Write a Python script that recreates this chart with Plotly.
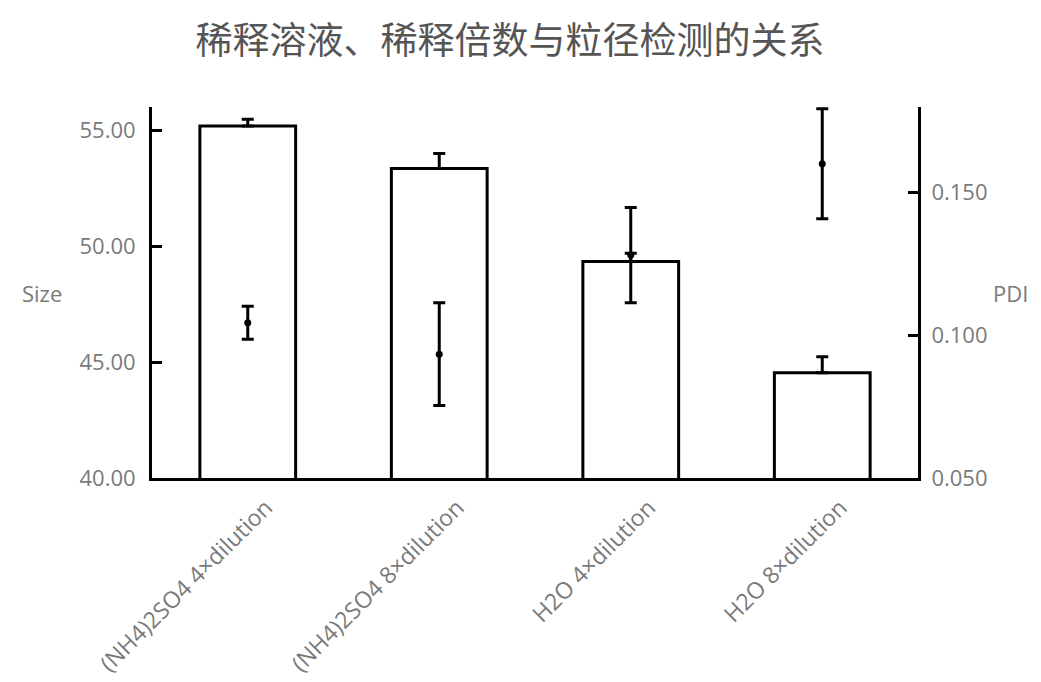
import plotly.graph_objects as go

categories = ["(NH4)2SO4 4×dilution", "(NH4)2SO4 8×dilution", "H2O 4×dilution", "H2O 8×dilution"]
size_values = [55.18, 53.35, 49.34, 44.54]
size_errors = [0.29, 0.65, 0.35, 0.69]
pdi_values = [0.1044, 0.0934, 0.1281, 0.1601]
pdi_errors = [0.0058, 0.0180, 0.0167, 0.0193]

title_text = "稀释溶液、稀释倍数与粒径检测的关系"
left_ticks = [40, 45, 50, 55]
right_ticks = [0.05, 0.10, 0.15]

grey = "#7a7a7a"
font_family = "Open Sans, Noto Sans CJK SC, sans-serif"

fig = go.Figure()
fig.add_trace(go.Bar(
    x=categories, y=size_values, name="Size",
    marker=dict(color="white", line=dict(color="black", width=3)),
    error_y=dict(type="data", array=size_errors, arrayminus=[0]*len(size_errors),
                 symmetric=False, color="black", thickness=3, width=6),
    yaxis="y", showlegend=False,
))
fig.add_trace(go.Scatter(
    x=categories, y=pdi_values, name="PDI", mode="markers",
    marker=dict(color="black", size=7),
    error_y=dict(type="data", array=pdi_errors, color="black", thickness=3, width=6),
    yaxis="y2", showlegend=False,
))

fig.update_layout(
    width=1041, height=682,
    margin=dict(l=152, r=123, t=107, b=204),
    paper_bgcolor="white", plot_bgcolor="white",
    bargap=0.5,
    font=dict(family=font_family, color=grey, size=22),
    title=dict(text=title_text, x=0.49, xanchor="center", y=0.94, yanchor="middle",
               font=dict(family="Noto Sans CJK SC, sans-serif", size=37, color="#555555")),
    xaxis=dict(showline=True, linecolor="black", linewidth=3, showgrid=False,
               ticks="", tickangle=-45, tickfont=dict(size=23, color=grey),
               ticklabelshift=18, ticklabelstandoff=4, automargin=False,
               zeroline=False),
    yaxis=dict(range=[40, 56], showline=True, linecolor="black", linewidth=3,
               showgrid=False, zeroline=False, ticks="inside", ticklen=10,
               tickwidth=3, tickcolor="black", tickvals=left_ticks, tickformat=".2f",
               tickfont=dict(size=22, color=grey), ticklabelstandoff=9, automargin=False),
    yaxis2=dict(range=[0.05, 0.18], overlaying="y", side="right", showline=True,
                linecolor="black", linewidth=3, showgrid=False, zeroline=False,
                ticks="inside", ticklen=10, tickwidth=3, tickcolor="black",
                tickvals=right_ticks, tickformat=".3f",
                tickfont=dict(size=22, color=grey), ticklabelstandoff=6, automargin=False),
    annotations=[
        dict(text="Size", xref="paper", yref="paper", x=-0.144, y=0.5,
             xanchor="center", yanchor="middle", showarrow=False,
             font=dict(size=22, color=grey)),
        dict(text="PDI", xref="paper", yref="paper", x=1.121, y=0.5,
             xanchor="center", yanchor="middle", showarrow=False,
             font=dict(size=22, color=grey)),
    ],
)

fig.write_html("out.html")
